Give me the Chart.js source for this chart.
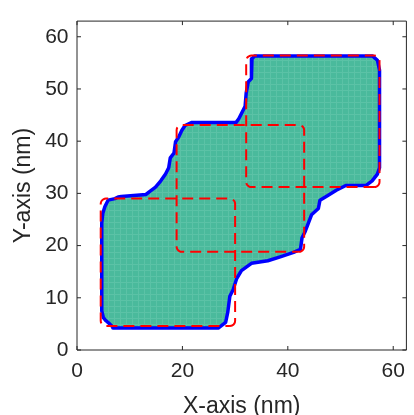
<!DOCTYPE html>
<html>
<head>
<meta charset="utf-8">
<script src="https://cdn.jsdelivr.net/npm/chart.js@4.4.1/dist/chart.umd.min.js"></script>
<style>
    html, body { margin: 0; padding: 0; background: #fff; }
    #shapeChart { display: block; }
</style>
</head>
<body>
<canvas id="shapeChart" width="414" height="415"></canvas>
<script>
// merged region outline (nm), traced counter-clockwise from the bottom-left
const outlineX = [6.8, 26.8, 28.2, 28.6, 29.0, 29.6, 30.3, 31.2, 33.1, 36.2, 38.7, 41.1, 42.4, 42.7, 43.3, 43.9,
    44.5, 45.8, 46.1, 47.6, 49.2, 51.0, 54.8, 56.0, 57.0, 57.4, 57.4, 57.0, 56.1, 33.7, 33.2, 33.1,
    32.5, 32.1, 31.9, 31.3, 30.7, 30.2, 21.8, 20.5, 19.9, 19.3, 18.7, 18.4, 17.7, 17.4, 16.8, 15.9,
    14.9, 13.7, 13.1, 8.4, 7.8, 7.2, 5.9, 5.3, 4.9, 4.7, 4.7, 5.0, 5.5, 6.2, 6.8, 6.8];
const outlineY = [4.2, 4.2, 5.3, 7.2, 10.3, 11.5, 13.7, 15.2, 16.6, 17.1, 17.9, 18.7, 19.3, 21.5, 22.7, 24.3,
    25.9, 27.1, 28.7, 29.6, 30.6, 31.5, 31.5, 32.4, 33.7, 34.9, 53.6, 55.5, 56.3, 56.3, 55.8, 52.0,
    51.4, 49.2, 46.7, 45.5, 44.3, 43.6, 43.6, 43.0, 42.1, 40.8, 39.9, 37.7, 36.8, 34.9, 33.7, 32.4,
    31.2, 30.3, 29.8, 29.4, 29.3, 29.0, 28.7, 27.5, 26.2, 24.3, 7.5, 6.2, 5.6, 5.0, 4.4, 4.2];

// the three source squares (nm)
const boxLeft = [4.5, 18.9, 32.1];
const boxRight = [30.0, 43.1, 57.4];
const boxBottom = [4.6, 18.8, 31.2];
const boxTop = [29.0, 43.1, 56.4];
const cornerRadius = 1.0;

const xTicks = [0, 20, 40, 60];
const yTicks = [0, 10, 20, 30, 40, 50, 60];

const axisColor = '#262626';

// rounded rectangle as a closed list of points
const roundedBox = (x0, x1, y0, y1, r)=> {
    const pts = [];
    const corners = [
        [x1 - r, y0 + r, -90],
        [x1 - r, y1 - r, 0],
        [x0 + r, y1 - r, 90],
        [x0 + r, y0 + r, 180]
    ];
    for(let [cx, cy, a0] of corners)
        for(let k = 0; k <= 6; k++) {
            const a = (a0 + k * 15) * Math.PI / 180;
            pts.push({x: cx + r * Math.cos(a), y: cy + r * Math.sin(a)});
        }
    pts.push(pts[0]);
    return pts;
};

// faint mesh texture for the filled region
const tile = document.createElement('canvas');
tile.width = 6;
tile.height = 6;
const tctx = tile.getContext('2d');
tctx.fillStyle = '#4aba9c';
tctx.fillRect(0, 0, 6, 6);
tctx.fillStyle = '#5bc2a6';
tctx.fillRect(0, 0, 6, 1);
tctx.fillRect(0, 0, 1, 6);
const meshFill = tctx.createPattern(tile, 'repeat');

const datasets = boxLeft.map((x0, i)=> ({
    data: roundedBox(x0, boxRight[i], boxBottom[i], boxTop[i], cornerRadius),
    showLine: true,
    borderColor: '#ff0000',
    borderWidth: 2,
    borderDash: [11, 6],
    pointRadius: 0,
    fill: false,
    order: 1
}));

datasets.push({
    data: outlineX.map((x, i)=> ({x: x, y: outlineY[i]})),
    showLine: true,
    borderColor: '#0000ff',
    borderWidth: 3.5,
    borderJoinStyle: 'round',
    backgroundColor: meshFill,
    pointRadius: 0,
    fill: 'shape',
    order: 2
});

// MATLAB-like box with inward ticks on all four sides
const boxAxes = {
    id: 'boxAxes',
    afterDraw(chart) {
        const {ctx, chartArea: a, scales: {x, y}} = chart;
        const tl = 4;
        ctx.save();
        ctx.strokeStyle = axisColor;
        ctx.lineWidth = 1;
        ctx.beginPath();
        ctx.rect(a.left, a.top, a.right - a.left, a.bottom - a.top);
        for(let v of xTicks) {
            const px = x.getPixelForValue(v);
            ctx.moveTo(px, a.bottom);
            ctx.lineTo(px, a.bottom - tl);
            ctx.moveTo(px, a.top);
            ctx.lineTo(px, a.top + tl);
        }
        for(let v of yTicks) {
            const py = y.getPixelForValue(v);
            ctx.moveTo(a.left, py);
            ctx.lineTo(a.left + tl, py);
            ctx.moveTo(a.right, py);
            ctx.lineTo(a.right - tl, py);
        }
        ctx.stroke();
        ctx.restore();
    }
};

const ctx = document.getElementById('shapeChart');
new Chart(ctx, {
    type: 'scatter',
    data: {datasets: datasets},
    options: {
        responsive: false,
        animation: false,
        devicePixelRatio: 1,
        layout: {padding: {left: 0, right: 2.5, top: 13, bottom: 0}},
        plugins: {legend: {display: false}, tooltip: {enabled: false}},
        scales: {
            x: {
                type: 'linear',
                min: 0,
                max: 62.5,
                afterBuildTicks: (s)=> { s.ticks = xTicks.map(v=> ({value: v})); },
                afterFit: (s)=> { s.height = 65; },
                grid: {display: false, drawTicks: false},
                border: {display: false},
                ticks: {
                    color: axisColor,
                    padding: 9,
                    maxRotation: 0,
                    font: {family: 'Liberation Sans, Arial, sans-serif', size: 21}
                },
                title: {
                    display: true,
                    text: 'X-axis (nm)',
                    color: axisColor,
                    padding: {top: 0, bottom: 3},
                    font: {family: 'Liberation Sans, Arial, sans-serif', size: 23, lineHeight: 0.5}
                }
            },
            y: {
                type: 'linear',
                min: 0,
                max: 63,
                afterBuildTicks: (s)=> { s.ticks = yTicks.map(v=> ({value: v})); },
                afterFit: (s)=> { s.width = 77; },
                grid: {display: false, drawTicks: false},
                border: {display: false},
                ticks: {
                    color: axisColor,
                    padding: 8.5,
                    font: {family: 'Liberation Sans, Arial, sans-serif', size: 21}
                },
                title: {
                    display: true,
                    text: 'Y-axis (nm)',
                    color: axisColor,
                    padding: {top: 18, bottom: 0},
                    font: {family: 'Liberation Sans, Arial, sans-serif', size: 23, lineHeight: 0.5}
                }
            }
        }
    },
    plugins: [boxAxes]
});
</script>
</body>
</html>
